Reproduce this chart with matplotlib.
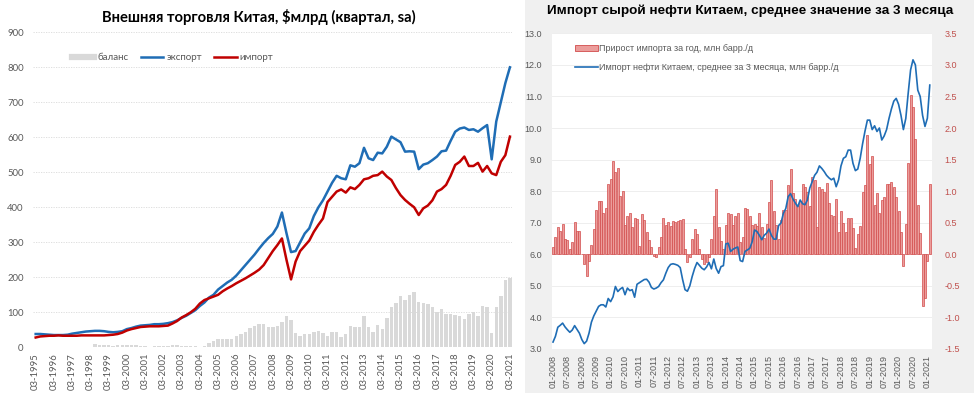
import matplotlib
matplotlib.use("Agg")
import matplotlib.pyplot as plt
import numpy as np
from matplotlib.lines import Line2D
from matplotlib.patches import Patch, Rectangle

# ---------------- Left panel data (quarterly, 1995Q1 .. 2021Q1) ----------------
left_tick_labels = ["03-%d" % y for y in range(1995, 2022)]

balance = [0, 0, 0, 0, 0, 0, 0, 0, 0, 0, 0, 0,
           0, 9, 8, 8, 6, 5, 7, 7, 6, 6, 7, 5,
           3, 2, 5, 4, 3, 4, 7, 6, 5, 4, 4, 3,
           0, 5, 11, 19, 24, 23, 24, 25, 33, 37, 43, 54,
           61, 67, 67, 57, 59, 61, 71, 90, 78, 42, 32, 37,
           37, 45, 48, 40, 32, 43, 43, 29, 38, 61, 57, 59,
           90, 59, 43, 64, 52, 85, 116, 126, 147, 135, 150, 157,
           130, 126, 123, 114, 100, 110, 95, 95, 91, 90, 81, 95,
           102, 90, 119, 116, 42, 114, 147, 192, 197]

export = [38, 38, 37, 36, 35, 35, 35, 36, 39, 41, 43, 45,
          46, 47, 47, 46, 44, 43, 44, 46, 52, 55, 59, 62,
          63, 64, 66, 66, 67, 69, 72, 77, 84, 90, 98, 106,
          118, 128, 142, 150, 165, 175, 185, 193, 205, 220, 235, 250,
          265, 282, 298, 312, 324, 345, 385, 326, 272, 275, 300, 325,
          340, 375, 400, 420, 445, 470, 490, 483, 480, 520, 516, 526,
          570, 540, 535, 556, 554, 573, 602, 594, 586, 559, 560, 559,
          509, 522, 526, 535, 545, 560, 562, 590, 616, 625, 628, 621,
          623, 616, 626, 635, 537, 645, 700, 755, 800]

imports = [28, 31, 32, 33, 33, 34, 33, 33, 33, 33, 34, 34,
           34, 34, 34, 34, 35, 36, 38, 42, 48, 52, 55, 58,
           59, 60, 60, 60, 61, 62, 68, 75, 85, 92, 100, 110,
           125, 135, 140, 145, 150, 160, 168, 175, 183, 190, 197, 205,
           213, 222, 235, 255, 275, 292, 311, 250, 194, 245, 275, 290,
           305, 330, 350, 368, 415, 430, 445, 451, 442, 457, 452, 464,
           480, 483, 490, 492, 502, 488, 478, 455, 435, 421, 410, 400,
           378, 397, 405, 420, 445, 452, 464, 490, 521, 530, 545, 518,
           518, 527, 502, 518, 497, 492, 530, 549, 602]

# ---------------- Right panel data (monthly, 01-2008 .. 02-2021) ----------------
right_tick_labels = []
for y in range(2008, 2022):
    right_tick_labels.append("01-%d" % y)
    if y < 2021:
        right_tick_labels.append("07-%d" % y)

growth = [0.12, 0.27, 0.43, 0.37, 0.48, 0.24, 0.22, 0.08, 0.19, 0.51, 0.37, 0.37,
          0.00, -0.16, -0.34, -0.10, 0.14, 0.40, 0.70, 0.85, 0.85, 0.66, 0.73, 1.11,
          1.19, 1.47, 1.30, 1.37, 0.93, 1.00, 0.47, 0.60, 0.65, 0.43, 0.57, 0.56,
          0.13, 0.64, 0.54, 0.36, 0.22, 0.12, -0.03, -0.05,
          0.12, 0.27, 0.57, 0.46, 0.51, 0.45, 0.53, 0.51, 0.53, 0.54, 0.56, 0.09,
          -0.12, -0.04, 0.25, 0.40, 0.32, 0.09, -0.08, -0.15, -0.12, -0.04, 0.25, 0.60,
          1.03, 0.44, 0.21, 0.09, 0.46, 0.66, 0.64, 0.46, 0.60,
          0.65, 0.20, 0.28, 0.73, 0.71, 0.61, 0.47, 0.48, 0.45, 0.66,
          0.44, 0.26, 0.48, 0.83, 1.17, 0.68, 0.46, 0.24, 0.55, 0.70,
          0.70, 1.09, 1.35, 0.97, 0.87, 0.77, 0.85, 1.12, 1.06, 0.99,
          0.77, 1.23, 1.17, 0.44, 1.07, 1.03, 0.99, 1.13, 0.82, 0.63,
          0.60, 0.88, 0.36, 0.69, 0.50, 0.36, 0.58, 0.57, 0.41, 0.10,
          0.32, 0.45, 0.99, 1.10, 1.89, 1.43, 1.56, 0.78, 0.97, 0.65,
          0.86, 0.91, 1.12, 1.11, 1.14, 1.06, 0.90, 0.69, 0.36, -0.19,
          0.48, 1.44, 2.52, 2.34, 1.83, 0.78, 0.34, -0.82, -0.70, -0.10,
          1.12]

oil_imports = [3.22, 3.40, 3.69, 3.75, 3.82, 3.70, 3.61, 3.53, 3.60, 3.74, 3.62, 3.50,
               3.30, 3.17, 3.25, 3.50, 3.85, 4.05, 4.20, 4.35, 4.40, 4.40, 4.33, 4.60,
               4.50, 4.65, 4.98, 4.82, 4.90, 4.95, 4.72, 4.93, 4.85, 4.88, 4.64, 5.05,
               5.10, 5.15, 5.20, 5.21, 5.12, 4.95, 4.90, 4.93, 4.98, 5.10, 5.19, 5.40,
               5.58, 5.68, 5.70, 5.68, 5.65, 5.58, 5.20, 4.88, 4.83, 5.00, 5.30, 5.55,
               5.74, 5.65, 5.56, 5.51, 5.60, 5.74, 5.54, 5.85, 5.55, 5.40, 5.61, 5.64,
               6.33, 6.35, 6.09, 6.16, 6.20, 6.23, 5.80, 5.77, 6.09, 6.14, 6.19, 6.40,
               6.77, 6.72, 6.60, 6.46, 6.60, 6.67, 6.80, 6.60, 6.48, 6.48, 6.91, 6.99,
               7.30, 7.45, 7.83, 7.92, 7.75, 7.62, 7.51, 7.72, 7.60, 7.57, 7.72, 8.10,
               8.30, 8.50, 8.60, 8.80, 8.72, 8.62, 8.50, 8.42, 8.36, 8.41, 8.14, 8.36,
               8.80, 9.04, 9.09, 9.30, 9.30, 8.88, 8.65, 8.70, 9.04, 9.50, 9.90, 10.25,
               10.25, 9.95, 10.07, 9.89, 10.00, 9.62, 9.75, 9.95, 10.30, 10.60, 10.85, 10.94,
               10.75, 10.40, 9.95, 10.30, 11.10, 11.84, 12.16, 12.00, 11.20, 11.00, 10.40, 10.05,
               10.31, 11.36]

# ---------------- Figure ----------------
W, H = 974, 393
fig = plt.figure(figsize=(W / 100, H / 100), dpi=100)
fig.patch.set_facecolor("white")

LFONT = ["Lato", "DejaVu Sans"]
RFONT = ["Liberation Sans", "DejaVu Sans"]
GREY_TXT = "#595959"

# grey background of right panel
fig.patches.append(Rectangle((525 / W, 0), 1 - 525 / W, 1, transform=fig.transFigure,
                             facecolor="#f0f0f0", edgecolor="none", zorder=-10))


def fx(px):
    return px / W


def fy(py):
    return 1 - py / H


# ---------------- Left axes ----------------
ax1 = fig.add_axes([fx(33.4), fy(347.3), fx(512.2) - fx(33.4), fy(32.3) - fy(347.3)])
q = np.arange(len(export))
ax1.bar(q, balance, width=0.75, color="#d9d9d9", zorder=2)
ax1.plot(q, export, color="#1f6db5", lw=1.8, zorder=3, solid_joinstyle="round")
ax1.plot(q, imports, color="#c00000", lw=1.8, zorder=3, solid_joinstyle="round")
ax1.set_xlim(-0.5, len(export) - 0.5)
ax1.set_ylim(0, 900)
ax1.set_yticks(np.arange(0, 901, 100))
ax1.set_xticks(np.arange(0, len(export), 4))
ax1.set_xticklabels(left_tick_labels, rotation=90, fontsize=6.8, color=GREY_TXT, family=LFONT)
for t in ax1.get_yticklabels():
    t.set_fontsize(6.8)
    t.set_color(GREY_TXT)
    t.set_family(LFONT)
ax1.tick_params(length=0)
ax1.tick_params(axis="y", pad=7)
ax1.tick_params(axis="x", pad=4)
for s in ax1.spines.values():
    s.set_visible(False)
ax1.yaxis.grid(True, color="#d9d9d9", lw=0.6, ls=(0, (1.5, 1.5)), zorder=0)
ax1.set_axisbelow(True)

fig.text(fx(259), fy(17), "Внешняя торговля Китая, $млрд (квартал, sa)", ha="center", va="center",
         fontsize=10.6, fontweight="bold", family=LFONT, color="black")

lh = [Line2D([], [], color="#d9d9d9", lw=4.5),
      Line2D([], [], color="#1f6db5", lw=1.8),
      Line2D([], [], color="#c00000", lw=1.8)]
leg1 = fig.legend(lh, ["баланс", "экспорт", "импорт"], loc="center left",
                  bbox_to_anchor=(fx(72), fy(58)), ncol=3, frameon=False,
                  prop={"family": LFONT, "size": 7}, handlelength=2.3, handletextpad=0.3,
                  columnspacing=1.3, borderaxespad=0, borderpad=0)
for t in leg1.get_texts():
    t.set_color(GREY_TXT)

# ---------------- Right axes ----------------
ax2 = fig.add_axes([fx(551.7), fy(349), fx(931.7) - fx(551.7), fy(33.3) - fy(349)])
ax3 = ax2.twinx()
m = np.arange(len(growth))

# bars on ax2 (right scale), line on ax3 (left scale, drawn on top)
ax2.bar(m, growth, width=0.8, color="#eb9d9b", edgecolor="#d24b4b", lw=0.5, zorder=2)
ax2.set_ylim(-1.5, 3.5)
ax2.set_xlim(-0.55, len(growth) - 0.2)
ax2.yaxis.tick_right()
ax2.yaxis.set_label_position("right")
ax2.set_yticks(np.arange(-1.5, 3.51, 0.5))
ax2.set_yticklabels(["%.1f" % v for v in np.arange(-1.5, 3.51, 0.5)], fontsize=6.5,
                    color="#c0504d", family=RFONT)
ax2.set_xticks(np.arange(0, len(growth), 6))
ax2.set_xticklabels(right_tick_labels, rotation=90, fontsize=6.5, color=GREY_TXT, family=RFONT)
ax2.tick_params(length=0)
ax2.tick_params(axis="y", pad=9)
ax2.tick_params(axis="x", pad=4)
ax2.yaxis.grid(True, color="#ebebeb", lw=0.6, zorder=0)
ax2.set_axisbelow(True)
for s in ax2.spines.values():
    s.set_visible(False)

ax3.plot(m, oil_imports, color="#1f6db5", lw=1.2, zorder=3)
ax3.yaxis.tick_left()
ax3.yaxis.set_label_position("left")
ax3.set_ylim(3, 13)
ax3.set_yticks(np.arange(3, 13.01, 1))
ax3.set_yticklabels(["%.1f" % v for v in np.arange(3, 13.01, 1)], fontsize=6.5,
                    color=GREY_TXT, family=RFONT)
ax3.tick_params(length=0)
ax3.tick_params(axis="y", pad=7)
for s in ax3.spines.values():
    s.set_visible(False)

fig.text(fx(750), fy(11), "Импорт сырой нефти Китаем, среднее значение за 3 месяца", ha="center",
         va="center", fontsize=9.7, fontweight="bold", family=RFONT, color="black")

rh = [Patch(facecolor="#eb9d9b", edgecolor="#d24b4b", lw=0.6),
      Line2D([], [], color="#1f6db5", lw=1.2)]
leg2 = fig.legend(rh, ["Прирост импорта за год, млн барр./д",
                       "Импорт нефти Китаем, среднее за 3 месяца, млн барр./д"],
                  loc="upper left", bbox_to_anchor=(fx(575), fy(44)), frameon=False,
                  prop={"family": RFONT, "size": 6.5}, handlelength=2.5, handletextpad=0.2,
                  labelspacing=1.1, borderaxespad=0, borderpad=0)
for t in leg2.get_texts():
    t.set_color(GREY_TXT)

fig.savefig("out.png", dpi=100, facecolor=fig.get_facecolor())
